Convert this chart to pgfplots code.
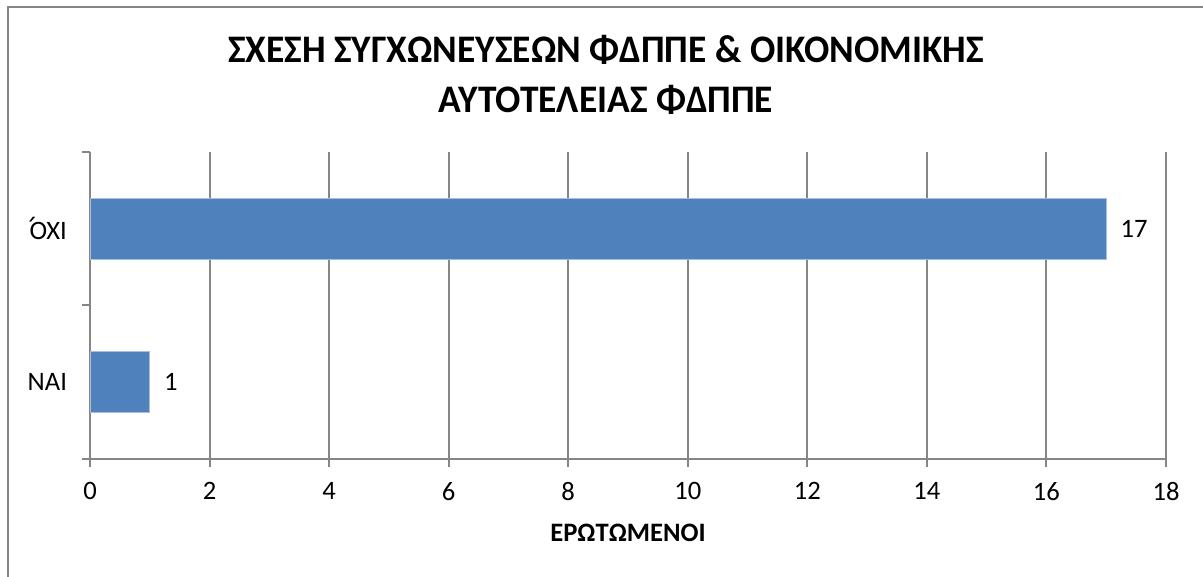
\documentclass[border=0pt]{standalone}
\usepackage{pgfplots}
\pgfplotsset{compat=1.18}
\usepackage{fontspec}
\setmainfont{Carlito}
\newfontfamily\titlefont[FakeStretch=0.96]{Carlito}
\newfontfamily\dvsans{DejaVu Sans}
\definecolor{barblue}{HTML}{4F81BD}
\definecolor{baredge}{HTML}{A7BFDE}
\definecolor{gridgray}{HTML}{868686}
\newcommand{\ohi}{{\rlap{\raisebox{0.05em}{\dvsans\char"0384}}\kern0.2emΟΧΙ}}
\begin{document}
\begin{tikzpicture}[x=0.5pt,y=0.5pt]
\useasboundingbox (0,0) rectangle (1203,577);
\draw[gridgray, line width=1pt] (8,0) -- (8,570) -- (1203,570);
\node[font=\titlefont\bfseries\fontsize{19.5}{25}\selectfont, align=center] at (606,502)
  {ΣΧΕΣΗ ΣΥΓΧΩΝΕΥΣΕΩΝ ΦΔΠΠΕ \& ΟΙΚΟΝΟΜΙΚΗΣ\\ΑΥΤΟΤΕΛΕΙΑΣ ΦΔΠΠΕ};
\begin{axis}[
  at={(45pt,59pt)}, anchor=south west,
  scale only axis, width=538pt, height=153.5pt,
  xmin=0, xmax=18, ymin=-0.5, ymax=1.5,
  xtick={0,2,...,18},
  ytick={0,1}, yticklabels={ΝΑΙ,\ohi},
  minor ytick={-0.5,0.5,1.5},
  xmajorgrids,
  grid style={gridgray, line width=1pt},
  axis x line*=bottom, axis y line*=left,
  axis line style={gridgray, line width=1pt},
  tick align=outside,
  major tick length=4pt, minor tick length=4pt,
  every major y tick/.append style={draw=none},
  tick style={gridgray, line width=1pt},
  /pgf/number format/assume math mode=true,
  ticklabel style={font=\fontsize{13.3}{16}\selectfont, text=black},
  xticklabel style={yshift=-4pt},
  yticklabel style={xshift=-4pt},
  point meta=x,
  nodes near coords,
  nodes near coords style={font=\fontsize{13.3}{16}\selectfont, anchor=west, xshift=3.6pt, text=black},
]
\addplot[xbar, fill=barblue, draw=baredge, line width=0.5pt, bar width=0.4]
  coordinates {(1,0) (17,1)};
\end{axis}
\node[font=\bfseries\fontsize{13.3}{16}\selectfont] at (628,44) {ΕΡΩΤΩΜΕΝΟΙ};
\end{tikzpicture}
\end{document}
